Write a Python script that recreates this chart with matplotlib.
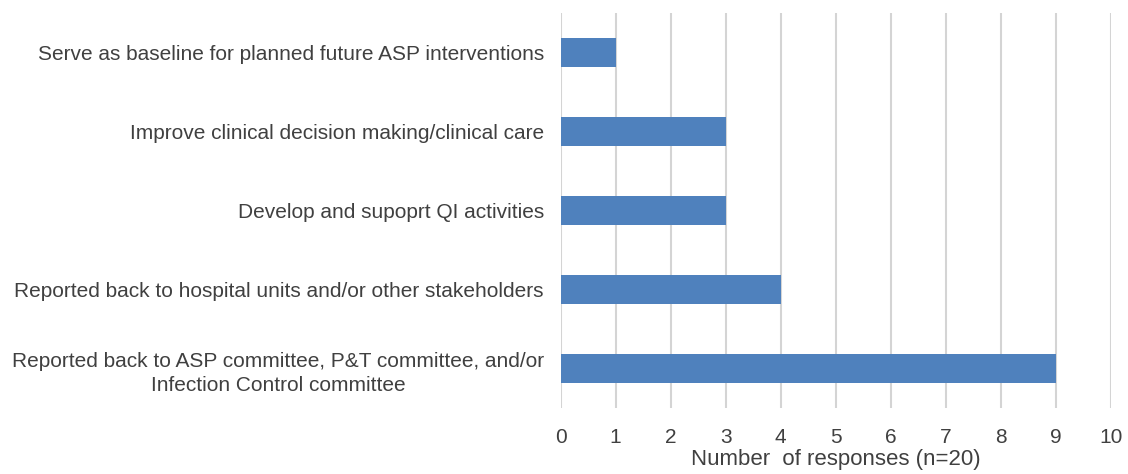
import matplotlib.pyplot as plt

plt.rcParams['font.family'] = ['Liberation Sans', 'DejaVu Sans']

# Categories listed from bottom to top
categories = [
    "Reported back to ASP committee, P&T committee, and/or\nInfection Control committee",
    "Reported back to hospital units and/or other stakeholders",
    "Develop and supoprt QI activities",
    "Improve clinical decision making/clinical care",
    "Serve as baseline for planned future ASP interventions",
]
responses = [9, 4, 3, 3, 1]
x_ticks = list(range(0, 11))

fig = plt.figure(figsize=(11.28, 4.74), dpi=100)
ax = fig.add_axes([0.497, 0.139, 0.488, 0.834])

ax.barh(range(len(categories)), responses, height=0.36, color="#4f81bd", zorder=3)

ax.set_xlim(0, 10)
ax.set_ylim(-0.5, len(categories) - 0.5)
ax.set_xticks(x_ticks)
ax.set_yticks(range(len(categories)))
ax.set_yticklabels(categories)
for lbl in ax.get_yticklabels():
    lbl.set_multialignment("center")
    lbl.set_linespacing(1.35)

ax.grid(axis="x", color="#d4d4d4", linewidth=1.5, zorder=0)
for s in ax.spines.values():
    s.set_visible(False)
ax.tick_params(axis="both", length=0, labelsize=15, colors="#404040")
ax.tick_params(axis="y", pad=12)
ax.tick_params(axis="x", pad=14)
ax.set_xlabel("Number  of responses (n=20)", fontsize=16, color="#404040", labelpad=2)

fig.savefig("out.png", dpi=100)
